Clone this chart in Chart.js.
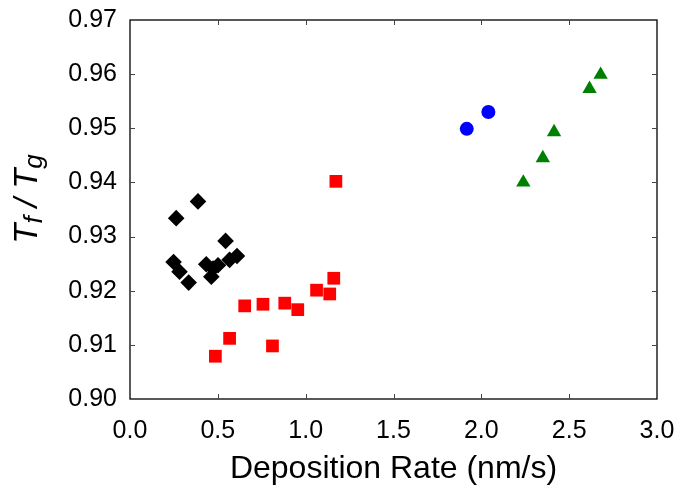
<!DOCTYPE html>
<html>
<head>
<meta charset="utf-8">
<script src="https://cdn.jsdelivr.net/npm/chart.js@4.4.1/dist/chart.umd.min.js"></script>
<style>
  html, body { margin: 0; padding: 0; background: #fff; }
  #wrap { width: 677px; height: 488px; }
</style>
</head>
<body>
<div id="wrap"><canvas id="chart" width="677" height="488"></canvas></div>
<script>
'use strict';

// deposition rate (nm/s) and Tf/Tg for each sample group
const diamondX = [0.387, 0.263, 0.544, 0.248, 0.282, 0.334, 0.434, 0.463, 0.501, 0.567, 0.609, 0.473];
const diamondY = [0.9365, 0.9334, 0.9292, 0.9253, 0.9235, 0.9215, 0.9249, 0.9226, 0.9247, 0.9257, 0.9264, 0.9241];

const squareX = [1.172, 1.160, 1.062, 1.137, 0.881, 0.955, 0.757, 0.653, 0.567, 0.811, 0.486];
const squareY = [0.9402, 0.9223, 0.9201, 0.9194, 0.9177, 0.9165, 0.9175, 0.9172, 0.9112, 0.9098, 0.9079];

const circleX = [1.917, 2.040];
const circleY = [0.9499, 0.9530];

const triangleX = [2.679, 2.616, 2.414, 2.350, 2.239];
const triangleY = [0.9599, 0.9573, 0.9493, 0.9445, 0.9400];

const xTicks = [0, 0.5, 1.0, 1.5, 2.0, 2.5, 3.0];
const yTicks = [0.90, 0.91, 0.92, 0.93, 0.94, 0.95, 0.96, 0.97];

const FONT = '"Liberation Sans", Arial, sans-serif';

function toPoints(xs, ys) {
    return xs.map((x, i) => ({ x: x, y: ys[i] }));
}

// frame on all four sides with inward tick marks
const frameTicks = {
    id: 'frameTicks',
    afterDatasetsDraw(chart) {
        const { ctx, chartArea: a, scales: { x, y } } = chart;
        const len = 5;
        ctx.save();
        ctx.strokeStyle = '#000';
        ctx.lineWidth = 1.3;
        ctx.strokeRect(a.left, a.top, a.right - a.left, a.bottom - a.top);
        ctx.lineWidth = 1;
        ctx.strokeStyle = '#444';
        ctx.beginPath();
        xTicks.forEach(v => {
            const px = Math.round(x.getPixelForValue(v)) + 0.5;
            if (v === xTicks[0] || v === xTicks[xTicks.length - 1]) return;
            ctx.moveTo(px, a.bottom); ctx.lineTo(px, a.bottom - len);
            ctx.moveTo(px, a.top); ctx.lineTo(px, a.top + len);
        });
        yTicks.forEach(v => {
            const py = Math.round(y.getPixelForValue(v)) + 0.5;
            if (v === yTicks[0] || v === yTicks[yTicks.length - 1]) return;
            ctx.moveTo(a.left, py); ctx.lineTo(a.left + len, py);
            ctx.moveTo(a.right, py); ctx.lineTo(a.right - len, py);
        });
        ctx.stroke();
        ctx.restore();
    }
};

// rotated y title with subscripts: Tf / Tg
const yTitle = {
    id: 'yTitle',
    afterDraw(chart) {
        const { ctx } = chart;
        const big = 'italic 33px ' + FONT;
        const sub = 'italic 26px ' + FONT;
        const parts = [
            { t: 'T', f: big, dy: 0 },
            { t: 'f', f: sub, dy: 5 },
            { t: ' / ', f: big, dy: 0 },
            { t: 'T', f: big, dy: 0 },
            { t: 'g', f: sub, dy: 5 }
        ];
        ctx.save();
        let total = 0;
        parts.forEach(p => { ctx.font = p.f; p.w = ctx.measureText(p.t).width; total += p.w; });
        ctx.translate(37, 199);
        ctx.rotate(-Math.PI / 2);
        ctx.fillStyle = '#000';
        ctx.textBaseline = 'alphabetic';
        let cx = -total / 2;
        parts.forEach(p => {
            ctx.font = p.f;
            ctx.fillText(p.t, cx, p.dy);
            cx += p.w;
        });
        ctx.restore();
    }
};

new Chart(document.getElementById('chart'), {
    type: 'scatter',
    data: {
        datasets: [
            {
                data: toPoints(diamondX, diamondY),
                pointStyle: 'rectRot',
                pointRadius: 8.3,
                backgroundColor: '#000',
                borderColor: '#000',
                borderWidth: 0
            },
            {
                data: toPoints(squareX, squareY),
                pointStyle: 'rect',
                pointRadius: 9,
                backgroundColor: '#ff0000',
                borderColor: '#ff0000',
                borderWidth: 0
            },
            {
                data: toPoints(circleX, circleY),
                pointStyle: 'circle',
                pointRadius: 7,
                backgroundColor: '#0000ff',
                borderColor: '#0000ff',
                borderWidth: 0
            },
            {
                data: toPoints(triangleX, triangleY),
                pointStyle: 'triangle',
                pointRadius: 8.3,
                backgroundColor: '#008000',
                borderColor: '#008000',
                borderWidth: 0
            }
        ]
    },
    options: {
        responsive: false,
        animation: false,
        layout: { padding: { top: 20, right: 20, left: 0, bottom: 0 } },
        plugins: {
            legend: { display: false },
            tooltip: { enabled: false }
        },
        scales: {
            x: {
                type: 'linear',
                min: 0,
                max: 3,
                afterBuildTicks: s => { s.ticks = xTicks.map(v => ({ value: v })); },
                afterFit: s => {
                    s.height = 89;
                    s.paddingLeft = 0;
                    s.paddingRight = 0;
                },
                grid: { display: false, drawTicks: false },
                border: { display: false },
                ticks: {
                    color: '#000',
                    padding: 17,
                    maxRotation: 0,
                    font: { family: FONT, size: 25 },
                    callback: v => v.toFixed(1)
                },
                title: {
                    display: true,
                    text: 'Deposition Rate (nm/s)',
                    color: '#000',
                    font: { family: FONT, size: 32 },
                    padding: { top: 0, bottom: 0 }
                }
            },
            y: {
                type: 'linear',
                min: 0.90,
                max: 0.97,
                afterBuildTicks: s => { s.ticks = yTicks.map(v => ({ value: v })); },
                afterFit: s => {
                    s.width = 130;
                    s.paddingTop = 0;
                    s.paddingBottom = 0;
                },
                grid: { display: false, drawTicks: false },
                border: { display: false },
                ticks: {
                    color: '#000',
                    padding: 13,
                    font: { family: FONT, size: 25 },
                    callback: v => v.toFixed(2)
                }
            }
        }
    },
    plugins: [frameTicks, yTitle]
});
</script>
</body>
</html>
